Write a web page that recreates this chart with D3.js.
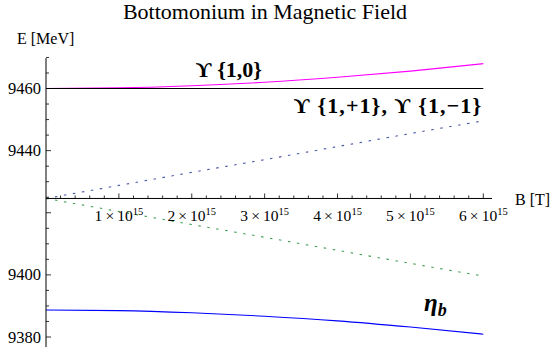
<!DOCTYPE html>
<html>
<head>
<meta charset="utf-8">
<script src="https://cdn.jsdelivr.net/npm/d3@7"></script>
<style>
  body { margin: 0; background: #fff; }
  svg text { font-family: "Liberation Serif", "Times New Roman", serif; }
  svg text.state { font-family: "Liberation Serif", "DejaVu Serif", serif; }
</style>
</head>
<body>
<svg id="chart" width="558" height="347"></svg>
<script>
// magnetic field in units of 1e15 T
const fieldB = [0, 1, 2, 3, 4, 5, 6];
// energies in MeV
const upsilon10 = [9460, 9460.2, 9460.9, 9462.0, 9463.6, 9465.6, 9468.0];
const upsilonPM = [9460, 9460, 9460, 9460, 9460, 9460, 9460];
const mixUp = [9424.6, 9428.8, 9433.0, 9437.1, 9441.3, 9445.5, 9449.6];
const mixDown = [9424.6, 9420.4, 9416.2, 9412.1, 9407.9, 9403.7, 9399.6];
const etaB = [9388.7, 9388.5, 9387.8, 9386.7, 9385.2, 9383.2, 9380.9];

const xTicks = [1, 2, 3, 4, 5, 6];
const yTickLabels = [9380, 9400, 9440, 9460];

const svg = d3.select("#chart");

const x = d3.scaleLinear().domain([0, 6]).range([46, 483.3]);
const y = d3.scaleLinear().domain([9380, 9460]).range([337, 88.5]);
const axisY = 9424.6; // where the B axis crosses

const series = [
    { values: upsilon10, color: "#ff00ff", dash: null },
    { values: upsilonPM, color: "#000000", dash: null },
    { values: mixUp, color: "#4a58a8", dash: "2.5,6.6" },
    { values: mixDown, color: "#3f9f52", dash: "2.5,6.6" },
    { values: etaB, color: "#0000ff", dash: null }
];

const line = d3.line()
    .x(d => x(d[0]))
    .y(d => y(d[1]))
    .curve(d3.curveMonotoneX);

svg.selectAll("path.curve")
    .data(series)
    .enter()
    .append("path")
    .attr("class", "curve")
    .attr("d", s => line(fieldB.map((b, i) => [b, s.values[i]])))
    .attr("fill", "none")
    .attr("stroke", s => s.color)
    .attr("stroke-width", 1.1)
    .attr("stroke-dasharray", s => s.dash);

// axes drawn by hand, Mathematica style (ticks inside)
const axisColor = "#000";

// vertical axis
svg.append("line")
    .attr("x1", x(0)).attr("x2", x(0))
    .attr("y1", y(9469.8)).attr("y2", 347)
    .attr("stroke", axisColor);

const yMinor = d3.range(9380, 9471, 5);
svg.selectAll("line.ytick")
    .data(yMinor)
    .enter()
    .append("line")
    .attr("class", "ytick")
    .attr("x1", x(0))
    .attr("x2", d => x(0) + (d % 20 === 0 ? 5 : 3))
    .attr("y1", d => y(d)).attr("y2", d => y(d))
    .attr("stroke", axisColor)
    .attr("stroke-width", 0.8);

svg.selectAll("text.ylabel")
    .data(yTickLabels)
    .enter()
    .append("text")
    .attr("class", "ylabel")
    .attr("x", x(0) - 5)
    .attr("y", d => y(d) + 5.5)
    .attr("text-anchor", "end")
    .attr("font-size", 16.5)
    .text(d => d);

// horizontal axis
svg.append("line")
    .attr("x1", x(0)).attr("x2", 492)
    .attr("y1", y(axisY)).attr("y2", y(axisY))
    .attr("stroke", axisColor);

const xMinor = d3.range(0, 31).map(i => i / 5).filter(v => v > 0);
svg.selectAll("line.xtick")
    .data(xMinor)
    .enter()
    .append("line")
    .attr("class", "xtick")
    .attr("x1", d => x(d)).attr("x2", d => x(d))
    .attr("y1", y(axisY))
    .attr("y2", d => y(axisY) - (Math.abs(d - Math.round(d)) < 1e-6 ? 5 : 3))
    .attr("stroke", axisColor)
    .attr("stroke-width", 0.8);

const xLab = svg.selectAll("text.xlabel")
    .data(xTicks)
    .enter()
    .append("text")
    .attr("class", "xlabel")
    .attr("x", d => x(d))
    .attr("y", y(axisY) + 23)
    .attr("text-anchor", "middle")
    .attr("font-size", 15.5);
xLab.append("tspan").text(d => d + "\u2009×\u200910");
xLab.append("tspan").attr("dy", -6).attr("font-size", 10.5).text("15");

// axis titles
svg.append("text")
    .attr("x", 17).attr("y", 44)
    .attr("font-size", 16)
    .text("E [MeV]");

svg.append("text")
    .attr("x", 515).attr("y", 205)
    .attr("font-size", 16)
    .text("B [T]");

svg.append("text")
    .attr("x", 265).attr("y", 19)
    .attr("text-anchor", "middle")
    .attr("font-size", 22)
    .text("Bottomonium in Magnetic Field");

// curve labels
svg.append("text")
    .attr("class", "state")
    .attr("x", x(2.51)).attr("y", 77)
    .attr("text-anchor", "middle")
    .attr("font-size", 22)
    .attr("font-weight", "bold")
    .text("\u03D2 {1,0}");

svg.append("text")
    .attr("class", "state")
    .attr("x", 388).attr("y", 113)
    .attr("text-anchor", "middle")
    .attr("font-size", 22)
    .attr("font-weight", "bold")
    .attr("letter-spacing", 1.1)
    .text("\u03D2 {1,+1}, \u03D2 {1,\u22121}");

const eta = svg.append("text")
    .attr("x", 424).attr("y", 311)
    .attr("font-size", 25)
    .attr("font-weight", "bold")
    .attr("font-style", "italic");
eta.append("tspan").text("η");
eta.append("tspan").attr("dy", 5).attr("font-size", 18).text("b");
</script>
</body>
</html>
